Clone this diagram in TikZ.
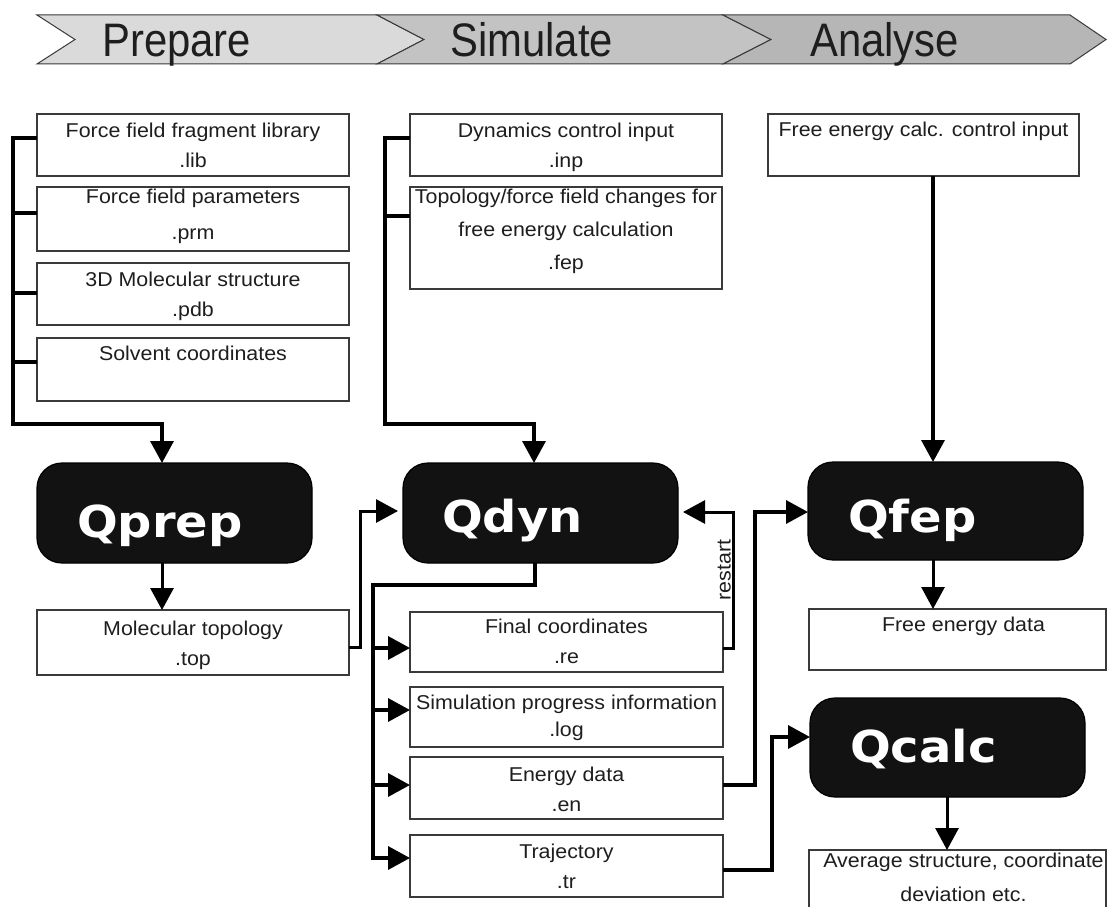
\documentclass[tikz,border=0pt]{standalone}
\usepackage{fontspec}
\setmainfont{Liberation Sans}
\newfontfamily\bannerfont[FakeStretch=0.89]{Liberation Sans}
\newfontfamily\boxfont[FakeStretch=1.07]{Liberation Sans}
\newfontfamily\qfont[FakeStretch=1.09]{DejaVu Sans}
\usetikzlibrary{arrows.meta,calc}
\definecolor{segA}{HTML}{DADADA}
\definecolor{segB}{HTML}{C3C3C3}
\definecolor{segC}{HTML}{B6B6B6}
\definecolor{edgegray}{HTML}{3A3A3A}
\definecolor{txt}{HTML}{1E1E1E}
\definecolor{qfill}{HTML}{121212}
\tikzset{
  seg/.style={draw=edgegray, line width=1pt, line join=miter},
  bantext/.style={font=\bannerfont\fontsize{47}{50}\selectfont, text=txt, inner sep=0pt, anchor=base west},
  fbox/.style={draw=edgegray, line width=1.4pt, fill=white, inner sep=0pt, outer sep=0pt, anchor=north west},
  ftext/.style={font=\boxfont\fontsize{20}{30}\selectfont, text=txt, inner sep=0pt, align=center, anchor=north},
  qbox/.style={draw=black, fill=qfill, rounded corners=25pt, line width=1.2pt, inner sep=0pt, outer sep=0pt, anchor=north west},
  qtext/.style={font=\qfont\bfseries\fontsize{44}{48}\selectfont, text=white, inner sep=0pt, anchor=base west},
  wire/.style={line width=3.5pt, line join=miter, line cap=butt},
  conn/.style={wire, -{Triangle[length=22pt,width=23pt]}},
}
\begin{document}
\begin{tikzpicture}[x=1pt,y=-1pt]
\useasboundingbox (0,0) rectangle (1108,907);
\fill[white] (0,0) rectangle (1108,907);

% ---------------- banner ----------------
\draw[seg, fill=segA] (37,15) -- (377,15) -- (424,39.5) -- (377,64) -- (37,64) -- (75,39.5) -- cycle;
\draw[seg, fill=segB] (377,15) -- (723,15) -- (771,39.5) -- (723,64) -- (377,64) -- (424,39.5) -- cycle;
\draw[seg, fill=segC] (723,15) -- (1070,15) -- (1106,39.5) -- (1070,64) -- (723,64) -- (771,39.5) -- cycle;
\node[bantext] (prepare) at (102,57) {Prepare};
\node[bantext] (simulate) at (450,57) {Simulate};
\node[bantext] (analyse) at (810,57) {Analyse};

% ---------------- boxes ----------------
\node[fbox, minimum width=312pt, minimum height=62pt] (lib) at (37,114) {};
\node[fbox, minimum width=312pt, minimum height=64pt] (prm) at (37,187) {};
\node[fbox, minimum width=312pt, minimum height=62pt] (pdb) at (37,263) {};
\node[fbox, minimum width=312pt, minimum height=63pt] (solv) at (37,338) {};
\node[fbox, minimum width=312pt, minimum height=65pt] (top) at (37,610) {};

\node[fbox, minimum width=312pt, minimum height=62pt] (inp) at (410,114) {};
\node[fbox, minimum width=312pt, minimum height=102pt] (fep) at (410,187) {};
\node[fbox, minimum width=313pt, minimum height=60pt] (re) at (410,612) {};
\node[fbox, minimum width=313pt, minimum height=60pt] (log) at (410,687) {};
\node[fbox, minimum width=313pt, minimum height=62pt] (en) at (410,757) {};
\node[fbox, minimum width=313pt, minimum height=62pt] (tr) at (410,835) {};

\node[fbox, minimum width=311pt, minimum height=62pt] (fecalc) at (768,114) {};
\node[fbox, minimum width=297pt, minimum height=61pt] (fedata) at (809,609) {};
\node[fbox, minimum width=297pt, minimum height=70pt] (avg) at (809,850) {};

% box texts
\node[ftext] (libT) at ([yshift=-8.5pt]lib.north) {Force field fragment library\\.lib};
\node[ftext] (prmT) at ([yshift=-2pt]prm.north) {Force field parameters\\[6pt].prm};
\node[ftext] (pdbT) at ([yshift=-9pt]pdb.north) {3D Molecular structure\\.pdb};
\node[ftext] (solvT) at ([yshift=-7.5pt]solv.north) {Solvent coordinates};
\node[ftext] (topT) at ([yshift=-11pt]top.north) {Molecular topology\\.top};
\node[ftext] (inpT) at ([yshift=-9pt]inp.north) {Dynamics control input\\.inp};
\node[ftext, font=\boxfont\fontsize{20}{33}\selectfont] (fepT) at ([yshift=-2pt]fep.north) {Topology/force field changes for\\free energy calculation\\.fep};
\node[ftext] (reT) at ([yshift=-7pt]re.north) {Final coordinates\\.re};
\node[ftext] (logT) at ([yshift=-8pt]log.north) {Simulation progress information\\[-3pt].log};
\node[ftext] (enT) at ([yshift=-10pt]en.north) {Energy data\\.en};
\node[ftext] (trT) at ([yshift=-8.5pt]tr.north) {Trajectory\\.tr};
\node[ftext] (fecalcT) at ([yshift=-8pt]fecalc.north) {Free energy calc. control input};
\node[ftext] (fedataT) at ([xshift=6pt,yshift=-7.5pt]fedata.north) {Free energy data};
\node[ftext, font=\boxfont\fontsize{20}{34}\selectfont] (avgT) at ([xshift=6pt,yshift=-2.5pt]avg.north) {Average structure, coordinate\\deviation etc.};

% ---------------- program boxes ----------------
\node[qbox, minimum width=275pt, minimum height=100pt] (qprep) at (37,463) {};
\node[qbox, minimum width=275pt, minimum height=100pt] (qdyn) at (403,463) {};
\node[qbox, minimum width=275pt, minimum height=98pt] (qfep) at (808,462) {};
\node[qbox, minimum width=275pt, minimum height=99pt] (qcalc) at (810,698) {};
\node[qtext] (qprepT) at (77,537) {Qprep};
\node[qtext] (qdynT) at (442,532) {Qdyn};
\node[qtext] (qfepT) at (848,532) {Qfep};
\node[qtext] (qcalcT) at (850,762) {Qcalc};

% ---------------- connectors: Prepare ----------------
\coordinate (pb1) at (13,138);
\coordinate (pb2) at (13,213);
\coordinate (pb3) at (13,293);
\coordinate (pb4) at (13,362);
\draw[wire] (pb1) -- (lib.west |- pb1);
\draw[wire] (pb2) -- (prm.west |- pb2);
\draw[wire] (pb3) -- (pdb.west |- pb3);
\draw[wire] (pb4) -- (solv.west |- pb4);
\draw[conn] ([yshift=1.75pt]pb1) -- (13,424) -| (qprep.north -| 162,0);
\draw[conn, line width=3pt] (qprep.south -| 162,0) -- (top.north -| 162,0);

% ---------------- connectors: Simulate ----------------
\coordinate (sb1) at (385,138);
\coordinate (sb2) at (385,216);
\draw[wire] (sb1) -- (inp.west |- sb1);
\draw[wire] (sb2) -- (fep.west |- sb2);
\draw[conn] ([yshift=1.75pt]sb1) -- (385,424) -| (qdyn.north -| 534,0);
\draw[conn, line width=3pt] (top.east |- 0,647) -- (360,647) |- ([xshift=-5pt]qdyn.west |- 0,511);

\coordinate (ob) at (373,585);
\draw[wire, line width=4pt] (qdyn.south -| 535,0) |- (ob) -- (373,860);
\draw[conn] (373,648) -- (re.west |- 0,648);
\draw[conn] (373,710) -- (log.west |- 0,710);
\draw[conn] (373,785) -- (en.west |- 0,785);
\draw[conn] (373,858) -- (tr.west |- 0,858);

% restart loop
\draw[conn, line width=3pt] (re.east |- 0,648) -- (733,648) |- ([xshift=5pt]qdyn.east |- 0,512);
\node[font=\boxfont\fontsize{20}{24}\selectfont, text=txt, inner sep=0pt, rotate=90, anchor=base] (restart) at (730.5,570) {restart};

% ---------------- connectors: Analyse ----------------
\draw[conn] (fecalc.south -| 933,0) -- (933,462);
\draw[conn, line width=3pt] (933,560) -- (fedata.north -| 933,0);
\draw[conn] (en.east |- 0,785) -- (755,785) |- (qfep.west |- 0,512);
\draw[conn] (tr.east |- 0,870) -- (772,870) |- (qcalc.west |- 0,737);
\draw[conn, line width=3pt] (qcalc.south -| 947,0) -- (avg.north -| 947,0);
\end{tikzpicture}
\end{document}
